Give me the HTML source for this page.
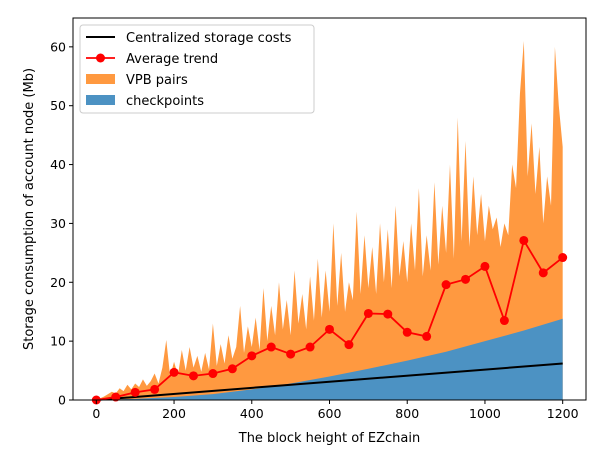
<!DOCTYPE html>
<html><head><meta charset="utf-8"><style>
html,body{margin:0;padding:0;background:#fff;}
svg{display:block;font-family:"DejaVu Sans","Liberation Sans",sans-serif;}
</style></head><body>
<svg id="chart" width="603" height="455" viewBox="0 0 603 455"></svg>
<script>
const blockStep = 10;
const vpbTotal = [0,0.3,0.6,1.0,1.4,1.1,2.0,1.5,2.6,1.8,2.8,
2.2,3.5,2.4,3.2,4.5,2.8,5.5,10.2,4.0,6.5,
4.2,8.5,5.0,9.0,5.5,7.5,4.8,8.0,5.2,13.0,
5.8,9.5,6.2,11.0,7.0,9.0,16.0,8.0,12.5,9.0,
14.0,8.5,19.0,10.0,16.0,11.0,20.0,12.0,17.0,11.0,
22.0,13.0,18.0,12.0,21.0,13.5,24.0,14.0,22.0,15.0,
30.0,16.0,25.0,15.0,20.0,17.0,32.0,18.0,28.0,19.0,
26.0,18.0,30.0,20.0,29.0,19.0,33.0,21.0,27.0,20.0,
30.0,22.0,36.0,21.0,28.0,22.0,37.0,23.0,33.0,25.0,
40.0,24.0,48.0,27.0,44.0,26.0,38.0,28.0,35.0,27.0,
33.0,29.0,31.0,26.0,30.0,28.0,40.0,36.0,52.0,61.0,
38.0,47.0,35.0,43.0,30.0,38.0,33.0,60.0,50.0,43.0];
const ckX = [0,100,200,300,400,500,600,700,800,900,1000,1100,1200];
const ckY = [0,0.2,0.5,1.0,1.8,2.8,4.0,5.3,6.7,8.2,10.0,11.8,13.8];
const avgX = [0,50,100,150,200,250,300,350,400,450,500,550,600,650,700,750,800,850,900,950,1000,1050,1100,1150,1200];
const avgY = [0,0.5,1.3,1.8,4.7,4.1,4.5,5.3,7.5,9.0,7.8,9.0,12.0,9.4,14.7,14.6,11.5,10.8,19.6,20.5,22.7,13.5,27.1,21.6,24.2];
const centralX = [0,1200];
const centralY = [0,6.2];
const xTicks = [0,200,400,600,800,1000,1200];
const yTicks = [0,10,20,30,40,50,60];

const L=73,R=586,T=18,B=400;
const X0=-60,X1=1260,Y0=0,Y1=64.9;
const sx=v=>L+(v-X0)/(X1-X0)*(R-L);
const sy=v=>B-(v-Y0)/(Y1-Y0)*(B-T);
const NS="http://www.w3.org/2000/svg";
const svg=document.getElementById('chart');
function mk(tag,attrs,parent){const e=document.createElementNS(NS,tag);for(const k in attrs)e.setAttribute(k,attrs[k]);(parent||svg).appendChild(e);return e;}

let d='M'+sx(0)+','+sy(0);
vpbTotal.forEach((v,i)=>{d+=' L'+sx(i*blockStep)+','+sy(v);});
d+=' L'+sx((vpbTotal.length-1)*blockStep)+','+sy(0)+' Z';
const vpb=mk('path',{d:d,fill:'#ff9940'});



let d2='M'+sx(ckX[0])+','+sy(0);
ckX.forEach((x,i)=>{d2+=' L'+sx(x)+','+sy(ckY[i]);});
d2+=' L'+sx(ckX[ckX.length-1])+','+sy(0)+' Z';
const ck=mk('path',{d:d2,fill:'#4c92c3'});



const cl=mk('polyline',{points:centralX.map((x,i)=>sx(x)+','+sy(centralY[i])).join(' '),fill:'none',stroke:'#000','stroke-width':2});



const al=mk('polyline',{points:avgX.map((x,i)=>sx(x)+','+sy(avgY[i])).join(' '),fill:'none',stroke:'#ff0000','stroke-width':1.8});


avgX.forEach((x,i)=>{
  const c=mk('circle',{cx:sx(x),cy:sy(avgY[i]),r:4.5,fill:'#ff0000'});
  
  
});

const fr=mk('rect',{x:L,y:T,width:R-L,height:B-T,fill:'none',stroke:'#000','stroke-width':1});



xTicks.forEach(v=>{
  mk('line',{x1:sx(v),x2:sx(v),y1:B,y2:B+4,stroke:'#000'});
  const t=mk('text',{x:sx(v),y:B+18,'font-size':12.5,'text-anchor':'middle',fill:'#000'});
  t.textContent=v;
  
  
});
yTicks.forEach(v=>{
  mk('line',{x1:L-4,x2:L,y1:sy(v),y2:sy(v),stroke:'#000'});
  const t=mk('text',{x:L-7,y:sy(v)+4.5,'font-size':12.5,'text-anchor':'end',fill:'#000'});
  t.textContent=v;
  
  
});
const xt=mk('text',{x:(L+R)/2,y:442,'font-size':13,'text-anchor':'middle',fill:'#000'});
xt.textContent='The block height of EZchain';


const yt=mk('text',{x:0,y:0,'font-size':13,'text-anchor':'middle',fill:'#000',transform:'translate(33,'+((T+B)/2)+') rotate(-90)'});
yt.textContent='Storage consumption of account node (Mb)';



const lg=mk('g',{});


mk('rect',{x:80,y:25,width:234,height:88,rx:3,fill:'#fff','fill-opacity':0.8,stroke:'#ccc'},lg);
mk('line',{x1:86,x2:115,y1:37,y2:37,stroke:'#000','stroke-width':2},lg);
mk('line',{x1:86,x2:115,y1:58,y2:58,stroke:'#ff0000','stroke-width':1.8},lg);
mk('circle',{cx:100.5,cy:58,r:4.5,fill:'#ff0000'},lg);
mk('rect',{x:86,y:74,width:29,height:10,fill:'#ff9940'},lg);
mk('rect',{x:86,y:95,width:29,height:10,fill:'#4c92c3'},lg);
[['Centralized storage costs',41,'legend-entry-centralized'],['Average trend',62,'legend-entry-average'],['VPB pairs',83,'legend-entry-vpb'],['checkpoints',104,'legend-entry-checkpoints']].forEach(a=>{
  const t=mk('text',{x:126,y:a[1]+1,'font-size':13,fill:'#000'},lg);
  t.textContent=a[0];
  
  
});
</script>
</body></html>
